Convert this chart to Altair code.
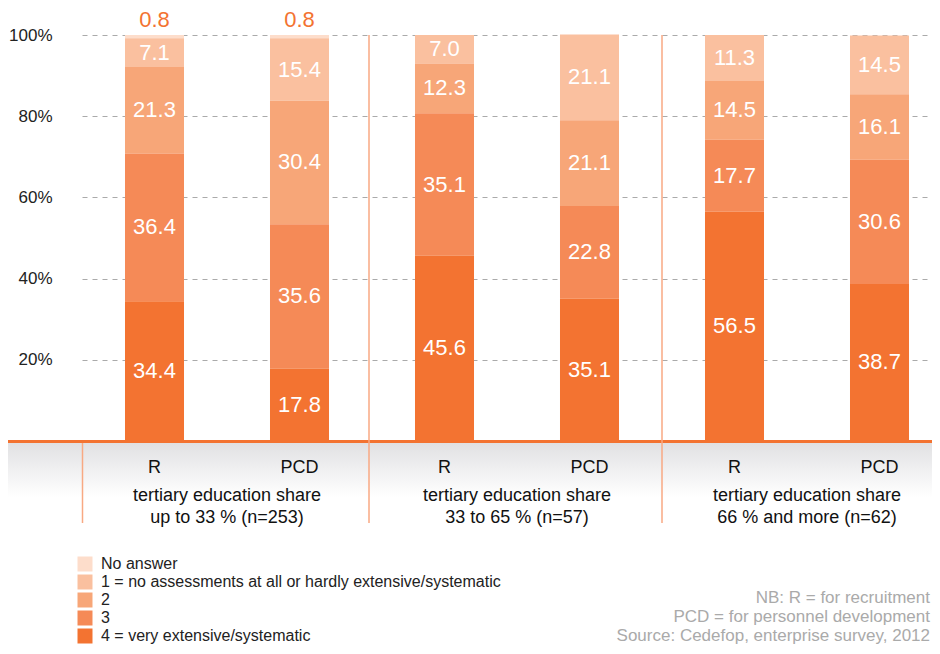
import altair as alt
import pandas as pd

# ---- data ----
groups = [
    "tertiary education share\nup to 33 % (n=253)",
    "tertiary education share\n33 to 65 % (n=57)",
    "tertiary education share\n66 % and more (n=62)",
]
bar_types = ["R", "PCD"]
categories = [
    "No answer",
    "1 = no assessments at all or hardly extensive/systematic",
    "2",
    "3",
    "4 = very extensive/systematic",
]
# columns in order: R, PCD for each group
no_answer = [0.8, 0.8, 0.0, 0.0, 0.0, 0.0]
level1 = [7.1, 15.4, 7.0, 21.1, 11.3, 14.5]
level2 = [21.3, 30.4, 12.3, 21.1, 14.5, 16.1]
level3 = [36.4, 35.6, 35.1, 22.8, 17.7, 30.6]
level4 = [34.4, 17.8, 45.6, 35.1, 56.5, 38.7]
colors = ["#FDDDCB", "#FAC09F", "#F7A678", "#F58A57", "#F37331"]
notes = ["NB: R = for recruitment", "PCD = for personnel development",
         "Source: Cedefop, enterprise survey, 2012"]

series = [no_answer, level1, level2, level3, level4]
col_keys = []
rows = []
for gi, g in enumerate(groups):
    for ti, t in enumerate(bar_types):
        key = f"{gi}|{t}"
        col_keys.append(key)
        ci = gi * 2 + ti
        for si, cat in enumerate(categories):
            v = series[si][ci]
            if v > 0:
                rows.append({"col": key, "group": g, "type": t, "category": cat,
                             "value": v, "rank": len(categories) - 1 - si})
df = pd.DataFrame(rows)
labels_df = pd.DataFrame([{"col": f"{gi}|{t}", "type": t, "group": g}
                          for gi, g in enumerate(groups) for t in bar_types])

FONT = "Liberation Sans"
W, H = 850, 406

xscale = alt.Scale(domain=col_keys, range=[0, 870], paddingInner=0.593, paddingOuter=0.2965)
x = alt.X("col:N", scale=xscale, axis=None)

base = alt.Chart(df)

bars = base.mark_bar().encode(
    x=x,
    y=alt.Y("value:Q", stack="zero",
            scale=alt.Scale(domain=[0, 100], nice=False),
            axis=alt.Axis(values=[20, 40, 60, 80, 100], labelExpr="datum.value + '%'",
                          title=None, ticks=False, domain=False, grid=True,
                          gridDash=[5, 5], gridColor="#aaaaaa", gridWidth=1,
                          labelPadding=30, labelFontSize=17, labelColor="#222222",
                          labelFont=FONT)),
    color=alt.Color("category:N", scale=alt.Scale(domain=categories, range=colors),
                    legend=alt.Legend(orient="none", legendX=-5, legendY=521, title=None,
                                      symbolType="square", symbolSize=225,
                                      symbolStrokeWidth=0, labelFontSize=16,
                                      labelFont=FONT, labelColor="#222222",
                                      rowPadding=2, labelOffset=8, padding=0,
                                      labelLimit=600)),
    order=alt.Order("rank:Q", sort="ascending"),
)

stacked = base.transform_stack(
    stack="value", as_=["v0", "v1"], groupby=["col"],
    sort=[alt.SortField("rank", order="ascending")]
).transform_calculate(mid="(datum.v0 + datum.v1) / 2")

inner = stacked.transform_filter("datum.category != 'No answer'").mark_text(
    color="white", fontSize=22, font=FONT, baseline="middle"
).encode(x=x, y=alt.Y("mid:Q"), text=alt.Text("value:Q", format=".1f"))

top = stacked.transform_filter("datum.category == 'No answer'").mark_text(
    color="#F37331", fontSize=22, font=FONT, baseline="middle", dy=-15
).encode(x=x, y=alt.Y("v1:Q"), text=alt.Text("value:Q", format=".1f"))

one = alt.Data(values=[{"k": 1}])

band = alt.Chart(one).mark_rect(
    color=alt.Gradient(gradient="linear",
                       stops=[alt.GradientStop(color="#e1e1e3", offset=0),
                              alt.GradientStop(color="#ffffff", offset=1)],
                       x1=0, x2=0, y1=0, y2=1)
).encode(x=alt.value(-77), x2=alt.value(W), y=alt.value(408), y2=alt.value(462))

baseline = alt.Chart(one).mark_rule(color="#F37331", strokeWidth=3).encode(
    x=alt.value(-77), x2=alt.value(W), y=alt.value(406.5))

div_color = "#F8A983"
div1 = alt.Chart(one).mark_rule(color=div_color, strokeWidth=1.5).encode(
    x=alt.value(0.5), y=alt.value(408), y2=alt.value(488))
div2 = alt.Chart(one).mark_rule(color=div_color, strokeWidth=1.5).encode(
    x=alt.value(287), y=alt.value(0), y2=alt.value(488))
div3 = alt.Chart(one).mark_rule(color=div_color, strokeWidth=1.5).encode(
    x=alt.value(580), y=alt.value(0), y2=alt.value(488))

type_labels = alt.Chart(labels_df).mark_text(
    fontSize=18, font=FONT, color="#111111", baseline="middle"
).encode(x=x, y=alt.value(433), text="type:N")

group_labels = alt.Chart(labels_df).transform_filter("datum.type == 'R'").mark_text(
    fontSize=18, font=FONT, color="#111111", baseline="alphabetic", lineBreak="\n",
    lineHeight=22, dx=72.5
).encode(x=x, y=alt.value(466), text="group:N")

note = alt.Chart(one).mark_text(
    fontSize=17, font=FONT, color="#aaaaaa", align="right", baseline="alphabetic",
    lineHeight=19
).encode(x=alt.value(848), y=alt.value(568), text=alt.value(notes))

chart = alt.layer(
    band, bars, inner, top, baseline, div1, div2, div3, type_labels, group_labels, note
).properties(
    width=W, height=H,
    autosize=alt.AutoSizeParams(type="none"),
    padding={"left": 74, "top": 27, "right": 0, "bottom": 203},
).configure_view(stroke=None)

chart.save("out.html", embed_options={"renderer": "svg", "actions": False})
